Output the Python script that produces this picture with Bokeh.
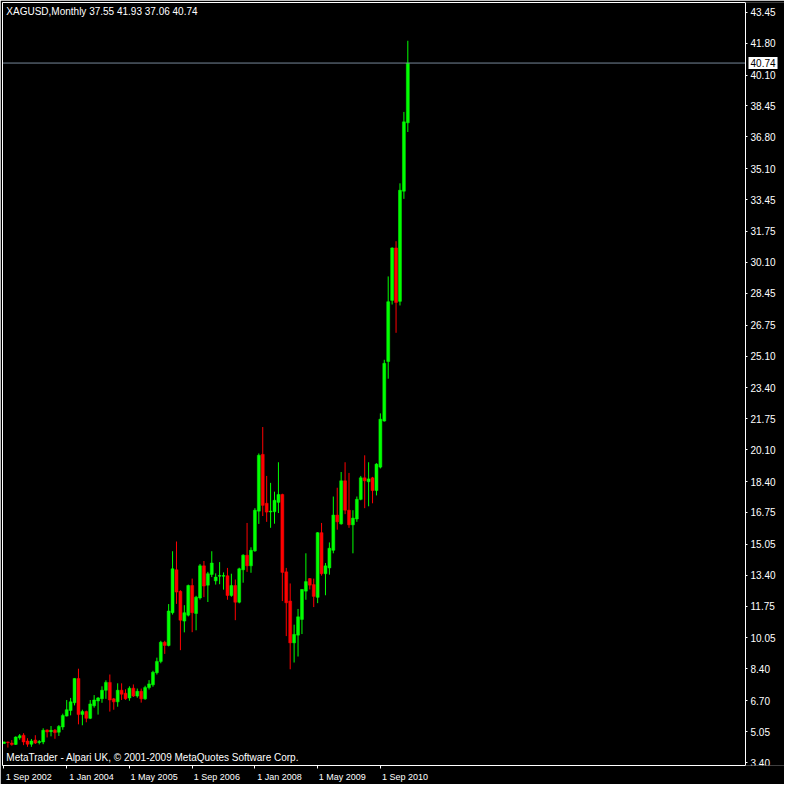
from bokeh.plotting import figure
from bokeh.models import (ColumnDataSource, LinearAxis, FixedTicker, Label,
                          Range1d, NumeralTickFormatter)
from bokeh.embed import file_html
from bokeh.resources import INLINE

# Monthly XAGUSD candles, Sep 2002 .. Apr 2011 (index 0 = Sep 2002)
opens = [4.42, 4.50, 4.44, 4.37, 4.72, 4.86, 4.55, 4.38, 4.60, 4.47,
         4.50, 5.14, 5.05, 5.13, 5.02, 5.30, 5.88, 6.18, 6.59, 7.89,
         5.97, 6.12, 5.76, 6.43, 6.69, 6.81, 7.26, 7.68, 6.80, 6.64,
         7.26, 7.10, 6.85, 7.37, 6.95, 7.20, 6.80, 7.40, 7.55, 8.20,
         8.80, 9.82, 9.65, 11.40, 13.69, 12.54, 10.95, 11.27, 12.85, 11.36,
         12.19, 13.90, 12.87, 13.44, 13.10, 13.35, 13.35, 13.37, 12.32, 12.85,
         11.96, 13.69, 14.47, 13.90, 14.70, 16.82, 19.85, 17.24, 16.78, 16.79,
         17.29, 17.71, 13.58, 12.02, 9.79, 10.20, 11.04, 12.55, 13.22, 12.90,
         12.22, 15.67, 13.48, 13.79, 14.73, 16.61, 16.14, 18.44, 16.87, 16.09,
         16.40, 17.45, 18.60, 18.39, 18.60, 17.92, 19.17, 21.63, 24.81, 28.07,
         30.87, 28.02, 33.90, 37.55]
highs = [4.52, 4.52, 4.60, 4.80, 4.92, 4.97, 4.70, 4.66, 4.86, 4.60,
         5.23, 5.17, 5.35, 5.19, 5.40, 6.01, 6.74, 6.85, 7.90, 8.41,
         6.22, 6.17, 6.74, 7.00, 6.90, 7.47, 7.79, 8.10, 6.85, 7.63,
         7.63, 7.31, 7.47, 7.57, 7.35, 7.35, 7.50, 7.80, 8.30, 9.00,
         9.90, 9.90, 11.86, 14.68, 15.20, 12.60, 11.80, 12.90, 13.22, 12.30,
         14.00, 14.16, 13.58, 14.68, 13.50, 14.10, 13.55, 13.79, 13.48, 13.17,
         13.80, 14.52, 16.19, 14.89, 16.98, 19.90, 21.31, 18.70, 18.33, 17.86,
         19.43, 17.75, 13.79, 12.96, 10.76, 11.60, 12.65, 14.57, 13.25, 13.22,
         15.70, 16.19, 14.05, 15.15, 17.60, 18.07, 18.91, 19.43, 18.86, 16.87,
         17.60, 18.70, 19.80, 19.43, 18.65, 19.38, 22.04, 24.90, 29.35, 30.90,
         31.23, 34.32, 38.13, 41.93]
lows = [4.40, 4.20, 4.30, 4.34, 4.62, 4.33, 4.24, 4.24, 4.39, 4.37,
        4.38, 4.74, 4.80, 4.67, 4.82, 5.15, 5.86, 5.92, 6.45, 5.44,
        5.39, 5.55, 5.72, 6.33, 5.96, 6.59, 6.80, 6.12, 6.22, 6.38,
        6.74, 6.75, 6.70, 6.90, 6.86, 6.60, 6.75, 7.30, 7.45, 8.10,
        8.70, 9.20, 9.60, 11.30, 11.87, 9.40, 10.35, 11.20, 10.36, 10.46,
        12.10, 12.23, 11.97, 13.30, 12.90, 12.92, 12.63, 12.09, 12.25, 11.00,
        11.90, 13.00, 13.58, 13.53, 14.65, 16.14, 16.56, 16.25, 15.93, 16.15,
        16.72, 12.02, 10.15, 8.38, 8.74, 9.06, 10.26, 12.09, 12.64, 11.70,
        11.91, 13.38, 12.33, 13.43, 14.57, 15.83, 16.10, 16.66, 15.93, 14.57,
        16.25, 17.40, 16.98, 17.08, 17.24, 17.66, 19.10, 21.60, 23.89, 27.85,
        26.34, 27.80, 33.49, 37.06]
closes = [4.50, 4.47, 4.36, 4.76, 4.83, 4.50, 4.38, 4.55, 4.44, 4.52,
          5.12, 5.03, 5.12, 5.00, 5.33, 5.91, 6.22, 6.64, 7.89, 5.96,
          6.12, 5.76, 6.53, 6.74, 6.85, 7.26, 7.68, 6.74, 6.64, 7.26,
          7.05, 6.80, 7.37, 6.95, 7.20, 6.80, 7.40, 7.60, 8.22, 8.80,
          9.82, 9.65, 11.49, 13.74, 12.50, 11.00, 11.40, 12.85, 11.40, 12.23,
          13.90, 12.82, 13.48, 14.05, 13.30, 13.38, 13.38, 12.32, 12.85, 11.96,
          13.74, 14.47, 13.90, 14.73, 16.87, 19.80, 17.13, 16.77, 16.82, 17.40,
          17.71, 13.55, 11.93, 9.79, 10.24, 11.18, 12.64, 13.06, 12.87, 12.27,
          15.67, 13.48, 13.90, 14.84, 16.61, 16.25, 18.44, 16.87, 16.09, 16.45,
          17.45, 18.60, 18.44, 18.54, 17.92, 19.33, 21.73, 24.71, 28.00, 30.87,
          27.96, 33.95, 37.60, 40.74]

price_ticks = [3.40, 5.05, 6.70, 8.40, 10.05, 11.75, 13.40, 15.05, 16.75,
               18.40, 20.10, 21.75, 23.40, 25.10, 26.75, 28.45, 30.10, 31.75,
               33.45, 35.10, 36.80, 38.45, 40.10, 41.80, 43.45]
date_ticks = [0, 16, 32, 48, 64, 80, 96]
date_labels = ["1 Sep 2002", "1 Jan 2004", "1 May 2005", "1 Sep 2006",
               "1 Jan 2008", "1 May 2009", "1 Sep 2010"]
title_text = "XAGUSD,Monthly  37.55 41.93 37.06 40.74"
footer_text = "MetaTrader - Alpari UK, \u00a9 2001-2009 MetaQuotes Software Corp."
bid_price = 40.74

BULL = "#00FF00"
BEAR = "#FF0000"
FONT = "Liberation Sans"
X_START, X_END = -0.375, 189.125      # chart window (white frame) in month units
X_VIEW_END = 199.07                   # plot area continues under the price scale
Y_START, Y_END = 3.243, 43.972

idx = list(range(len(opens)))
colors = [BULL if c >= o else BEAR for o, c in zip(opens, closes)]
tops = [max(o, c) for o, c in zip(opens, closes)]
bottoms = [min(o, c) for o, c in zip(opens, closes)]
src = ColumnDataSource(dict(x=idx, h=highs, l=lows, top=tops, bottom=bottoms, color=colors))

p = figure(width=784, height=784,
           x_range=Range1d(X_START, X_VIEW_END), y_range=Range1d(Y_START, Y_END),
           output_backend="svg", toolbar_location=None,
           x_axis_location=None, y_axis_location=None,
           min_border_left=2, min_border_top=2, min_border_right=0, min_border_bottom=18,
           background_fill_color="black", border_fill_color="black",
           outline_line_color=None)
p.grid.visible = False

p.segment(x0="x", y0="l", x1="x", y1="h", line_color="color", line_width=1, source=src)
p.vbar(x="x", width=0.75, top="top", bottom="bottom", fill_color="color",
       line_color="color", line_width=0.5, source=src)

# bid line across the chart window
p.segment(x0=[X_START], x1=[X_END], y0=[bid_price], y1=[bid_price],
          line_color="#778899", line_width=1)

# frame: left and top edges
left_axis = LinearAxis(ticker=FixedTicker(ticks=[]), axis_line_color="white",
                       major_tick_line_color=None, minor_tick_line_color=None,
                       major_tick_out=0, major_label_text_font_size="0px")
p.add_layout(left_axis, "left")
top_axis = LinearAxis(ticker=FixedTicker(ticks=[]), bounds=(X_START, X_END),
                      axis_line_color="white", major_tick_line_color=None,
                      minor_tick_line_color=None, major_tick_out=0,
                      major_label_text_font_size="0px")
p.add_layout(top_axis, "above")

# price scale pinned at the right edge of the chart window
yaxis = LinearAxis(ticker=FixedTicker(ticks=price_ticks), fixed_location=X_END,
                   formatter=NumeralTickFormatter(format="0.00"),
                   axis_line_color="white", major_tick_line_color="white",
                   major_tick_out=2, major_tick_in=0, minor_tick_line_color=None,
                   major_label_text_color="white", major_label_text_font=FONT,
                   major_label_text_font_size="10px", major_label_standoff=3)
p.add_layout(yaxis, "right")

label_shift = 6.3
xaxis = LinearAxis(ticker=FixedTicker(ticks=[t + label_shift for t in date_ticks],
                                      minor_ticks=date_ticks),
                   bounds=(X_START, X_END),
                   major_label_overrides={t + label_shift: s for t, s in zip(date_ticks, date_labels)},
                   axis_line_color="white", major_tick_line_color=None,
                   major_tick_out=0, major_tick_in=0,
                   minor_tick_line_color="white", minor_tick_out=3, minor_tick_in=0,
                   major_label_text_color="white", major_label_text_font=FONT,
                   major_label_text_font_size="9px", major_label_standoff=3)
p.add_layout(xaxis, "below")

p.add_layout(Label(x=0.6, y=43.50, text=title_text, text_color="white",
                   text_font=FONT, text_font_size="10px", text_baseline="middle"))
p.add_layout(Label(x=0.6, y=3.66, text=footer_text, text_color="white",
                   text_font=FONT, text_font_size="10px", text_baseline="middle"))
p.add_layout(Label(x=X_END, y=bid_price, x_offset=3, text="40.74", text_color="black",
                   background_fill_color="white", text_font=FONT,
                   text_font_size="10px", text_baseline="middle", text_align="left",
                   padding=2))

open("out.html", "w").write(file_html(p, INLINE))
